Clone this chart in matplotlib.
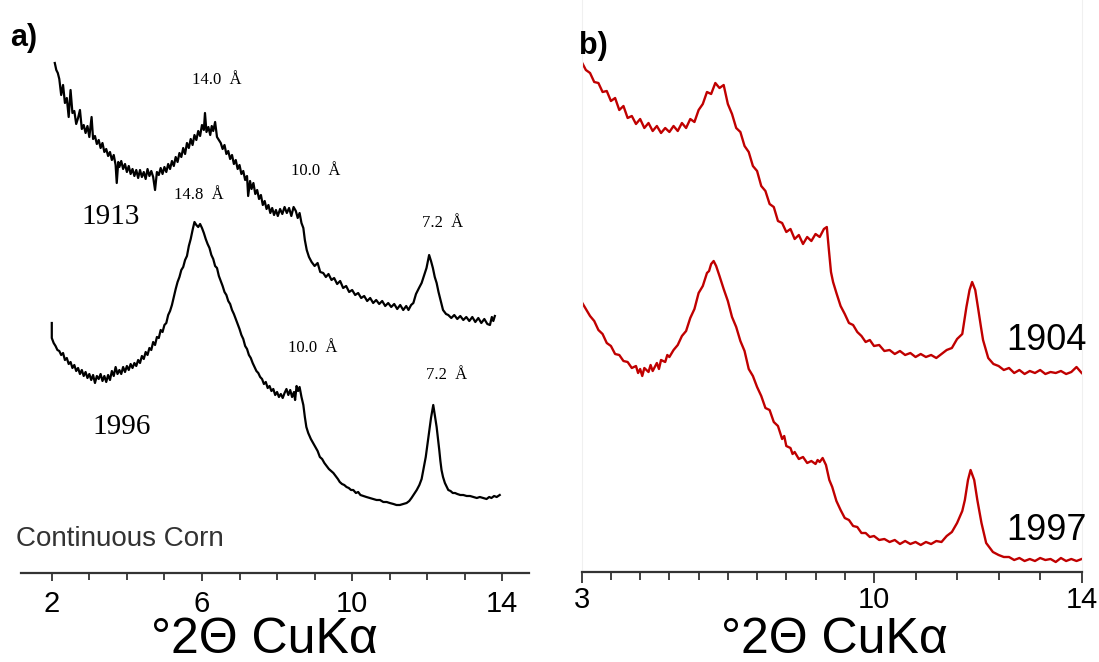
import numpy as np
import matplotlib
matplotlib.use('Agg')
import matplotlib.pyplot as plt

# a) scanned patterns: °2θ vs intensity (arbitrary units, read off the figure)
a1913_x = [2.08, 2.12, 2.16, 2.20, 2.25, 2.30, 2.35, 2.40, 2.45, 2.50, 2.55, 2.60, 2.65, 2.70, 2.75,
           2.80, 2.85, 2.90, 2.95, 3.00, 3.06, 3.10, 3.15, 3.20, 3.25, 3.30, 3.35, 3.40, 3.45, 3.50,
           3.55, 3.60, 3.65, 3.70, 3.73, 3.77, 3.80, 3.85, 3.90, 3.95, 4.00, 4.05, 4.10, 4.15, 4.20,
           4.25, 4.30, 4.35, 4.40, 4.45, 4.50, 4.55, 4.60, 4.65, 4.70, 4.75, 4.80, 4.85, 4.90, 4.95,
           5.00, 5.05, 5.10, 5.15, 5.20, 5.25, 5.30, 5.35, 5.40, 5.45, 5.50, 5.55, 5.60, 5.65, 5.70,
           5.75, 5.80, 5.85, 5.90, 5.95, 6.00, 6.05, 6.08, 6.12, 6.17, 6.22, 6.26, 6.30, 6.35, 6.40,
           6.45, 6.50, 6.55, 6.60, 6.65, 6.70, 6.75, 6.80, 6.85, 6.90, 6.95, 7.00, 7.05, 7.10, 7.15,
           7.20, 7.23, 7.28, 7.32, 7.37, 7.42, 7.47, 7.52, 7.57, 7.62, 7.67, 7.72, 7.77, 7.82, 7.87,
           7.92, 7.97, 8.02, 8.08, 8.14, 8.20, 8.26, 8.32, 8.38, 8.44, 8.50, 8.55, 8.60, 8.65, 8.70,
           8.74, 8.79, 8.85, 8.92, 9.00, 9.08, 9.15, 9.23, 9.30, 9.37, 9.45, 9.52, 9.60, 9.68, 9.76,
           9.84, 9.92, 10.00, 10.08, 10.16, 10.24, 10.32, 10.40, 10.48, 10.56, 10.64, 10.72, 10.80, 10.88, 10.96,
           11.04, 11.12, 11.20, 11.28, 11.36, 11.44, 11.50, 11.57, 11.63, 11.70, 11.78, 11.85, 11.92, 11.98, 12.05,
           12.10, 12.15, 12.20, 12.25, 12.30, 12.36, 12.42, 12.50, 12.56, 12.64, 12.72, 12.80, 12.88, 12.96, 13.04,
           13.12, 13.20, 13.28, 13.36, 13.44, 13.52, 13.60, 13.67, 13.72, 13.76, 13.80]
a1913_y = [510, 503, 500, 494, 478, 488, 470, 475, 456, 483, 460, 462, 449, 455, 463,
           444, 448, 440, 447, 436, 456, 434, 437, 429, 433, 425, 430, 421, 424, 417,
           421, 413, 418, 408, 390, 411, 406, 412, 404, 409, 401, 407, 399, 404, 397,
           403, 395, 403, 396, 401, 394, 404, 397, 402, 396, 383, 401, 398, 405, 399,
           406, 401, 409, 404, 412, 407, 416, 411, 420, 416, 425, 419, 430, 425, 434,
           428, 438, 433, 442, 437, 448, 443, 460, 441, 446, 438, 447, 442, 451, 436,
           433, 430, 424, 428, 419, 422, 414, 418, 409, 413, 404, 408, 399, 402, 393,
           397, 377, 392, 384, 390, 379, 383, 374, 378, 368, 372, 364, 368, 360, 365,
           358, 363, 357, 364, 359, 366, 360, 365, 357, 366, 362, 355, 360, 350, 345,
           333, 323, 316, 311, 307, 310, 301, 300, 296, 299, 293, 295, 289, 292, 285,
           287, 281, 283, 278, 280, 275, 277, 272, 275, 270, 273, 269, 272, 267, 270,
           266, 269, 264, 268, 263, 267, 263, 268, 270, 279, 285, 290, 298, 305, 318,
           312, 305, 296, 290, 281, 272, 263, 259, 258, 255, 258, 254, 257, 253, 256,
           252, 256, 251, 255, 250, 254, 249, 248, 256, 252, 257]

a1996_x = [2.00, 2.00, 2.05, 2.10, 2.15, 2.20, 2.25, 2.30, 2.35, 2.40, 2.45, 2.50, 2.55, 2.60, 2.65,
           2.70, 2.75, 2.80, 2.85, 2.90, 2.95, 3.00, 3.05, 3.10, 3.15, 3.20, 3.25, 3.30, 3.35, 3.40,
           3.45, 3.50, 3.55, 3.60, 3.65, 3.70, 3.75, 3.80, 3.85, 3.90, 3.95, 4.00, 4.05, 4.10, 4.15,
           4.20, 4.25, 4.30, 4.35, 4.40, 4.45, 4.50, 4.55, 4.60, 4.65, 4.70, 4.75, 4.80, 4.85, 4.90,
           4.95, 5.00, 5.05, 5.10, 5.15, 5.20, 5.25, 5.30, 5.35, 5.40, 5.45, 5.50, 5.55, 5.60, 5.65,
           5.70, 5.75, 5.80, 5.85, 5.90, 5.95, 6.00, 6.05, 6.10, 6.15, 6.20, 6.25, 6.30, 6.35, 6.40,
           6.45, 6.50, 6.55, 6.60, 6.65, 6.70, 6.75, 6.80, 6.85, 6.90, 6.95, 7.00, 7.05, 7.10, 7.15,
           7.20, 7.25, 7.30, 7.35, 7.40, 7.45, 7.50, 7.55, 7.60, 7.65, 7.70, 7.75, 7.80, 7.85, 7.90,
           7.95, 8.00, 8.05, 8.10, 8.15, 8.20, 8.25, 8.30, 8.35, 8.40, 8.45, 8.48, 8.52, 8.56, 8.60,
           8.65, 8.70, 8.74, 8.78, 8.83, 8.90, 8.96, 9.02, 9.08, 9.14, 9.20, 9.26, 9.32, 9.38, 9.44,
           9.50, 9.56, 9.62, 9.67, 9.73, 9.79, 9.85, 9.91, 9.97, 10.03, 10.10, 10.16, 10.22, 10.30, 10.38,
           10.47, 10.56, 10.65, 10.74, 10.83, 10.92, 11.00, 11.10, 11.18, 11.27, 11.36, 11.45, 11.52, 11.58, 11.65,
           11.72, 11.79, 11.85, 11.90, 11.96, 12.00, 12.05, 12.10, 12.16, 12.20, 12.25, 12.29, 12.32, 12.35, 12.38,
           12.42, 12.47, 12.52, 12.56, 12.62, 12.68, 12.74, 12.80, 12.88, 12.96, 13.05, 13.14, 13.23, 13.32, 13.40,
           13.49, 13.58, 13.65, 13.71, 13.78, 13.85, 13.93]
a1996_y = [250, 235, 230, 227, 223, 222, 218, 220, 213, 215, 209, 211, 205, 208, 202,
           205, 199, 203, 197, 201, 195, 199, 193, 198, 190, 197, 194, 199, 192, 197,
           191, 198, 193, 202, 197, 206, 199, 203, 199, 206, 201, 207, 203, 209, 205,
           210, 207, 213, 210, 217, 214, 221, 218, 225, 223, 231, 228, 236, 235, 243,
           241, 248, 250, 258, 262, 268, 276, 284, 291, 296, 303, 306, 313, 317, 327,
           334, 343, 351, 348, 346, 349, 345, 340, 334, 329, 325, 318, 314, 307, 305,
           297, 292, 287, 281, 278, 272, 269, 263, 259, 254, 249, 244, 238, 234, 227,
           224, 218, 215, 210, 206, 202, 200, 196, 194, 189, 191, 185, 187, 182, 184,
           178, 181, 176, 179, 175, 180, 184, 178, 183, 176, 181, 173, 187, 182, 186,
           176, 168, 156, 146, 140, 134, 130, 126, 122, 116, 114, 110, 107, 104, 102,
           100, 97, 94, 91, 89, 88, 86, 85, 83, 83, 80, 81, 78, 77, 76,
           75, 74, 73, 73, 71, 71, 70, 69, 68, 68, 69, 70, 72, 75, 79,
           83, 88, 94, 104, 116, 127, 140, 155, 168, 158, 146, 133, 123, 112, 103,
           96, 90, 86, 83, 82, 80, 80, 79, 78, 78, 77, 77, 76, 75, 76,
           75, 74, 76, 75, 77, 76, 78]

# b) diffractometer patterns
b1904_x = [3.0, 3.1, 3.2, 3.3, 3.4, 3.5, 3.6, 3.7, 3.8, 3.9, 4.0, 4.1, 4.2, 4.3, 4.4,
           4.5, 4.6, 4.7, 4.8, 4.9, 5.0, 5.1, 5.2, 5.3, 5.4, 5.5, 5.6, 5.7, 5.8, 5.9,
           6.0, 6.1, 6.2, 6.3, 6.4, 6.5, 6.6, 6.7, 6.8, 6.9, 7.0, 7.1, 7.2, 7.3, 7.4,
           7.5, 7.6, 7.7, 7.8, 7.9, 8.0, 8.1, 8.2, 8.3, 8.4, 8.5, 8.6, 8.7, 8.8, 8.87,
           8.92, 8.97, 9.02, 9.1, 9.2, 9.3, 9.4, 9.5, 9.6, 9.7, 9.8, 9.9, 10.0, 10.1, 10.2,
           10.3, 10.4, 10.5, 10.6, 10.7, 10.8, 10.9, 11.0, 11.1, 11.2, 11.3, 11.4, 11.5, 11.6, 11.7,
           11.78, 11.84, 11.89, 11.95, 12.01, 12.06, 12.1, 12.2, 12.3, 12.4, 12.5, 12.6, 12.7, 12.8, 12.9,
           13.0, 13.1, 13.2, 13.3, 13.4, 13.5, 13.6, 13.7, 13.8, 13.9, 14.0]
b1904_y = [510, 502, 499, 490, 489, 480, 481, 471, 474, 462, 466, 454, 456, 448, 453,
           444, 449, 441, 446, 439, 444, 440, 446, 441, 449, 444, 453, 450, 462, 468,
           480, 478, 489, 484, 487, 468, 458, 444, 440, 426, 420, 406, 401, 386, 381,
           368, 365, 351, 349, 340, 343, 333, 337, 328, 335, 331, 338, 335, 343, 345,
           322, 300, 290, 279, 266, 258, 249, 247, 240, 236, 230, 232, 226, 227, 221,
           222, 218, 221, 217, 219, 215, 218, 215, 217, 214, 218, 222, 224, 233, 238,
           265, 282, 290, 282, 262, 245, 232, 214, 208, 206, 202, 204, 199, 202, 198,
           201, 199, 202, 198, 200, 199, 201, 198, 200, 205, 199]

b1997_x = [3.0, 3.1, 3.2, 3.3, 3.4, 3.5, 3.6, 3.7, 3.8, 3.9, 4.0, 4.1, 4.2, 4.3, 4.35,
           4.4, 4.45, 4.5, 4.6, 4.65, 4.7, 4.8, 4.85, 4.9, 5.0, 5.05, 5.1, 5.2, 5.3, 5.4,
           5.5, 5.6, 5.7, 5.8, 5.9, 6.0, 6.05, 6.1, 6.16, 6.22, 6.3, 6.4, 6.5, 6.6, 6.7,
           6.8, 6.9, 7.0, 7.1, 7.2, 7.3, 7.4, 7.5, 7.6, 7.7, 7.8, 7.85, 7.9, 8.0, 8.05,
           8.1, 8.2, 8.3, 8.4, 8.5, 8.6, 8.65, 8.7, 8.77, 8.85, 8.93, 9.0, 9.1, 9.2, 9.3,
           9.4, 9.5, 9.6, 9.7, 9.8, 9.9, 10.0, 10.1, 10.2, 10.3, 10.4, 10.5, 10.6, 10.7, 10.8,
           10.9, 11.0, 11.1, 11.2, 11.3, 11.4, 11.5, 11.6, 11.7, 11.75, 11.81, 11.86, 11.93, 11.99, 12.07,
           12.16, 12.29, 12.4, 12.5, 12.6, 12.7, 12.8, 12.9, 13.0, 13.1, 13.2, 13.3, 13.4, 13.5, 13.6,
           13.7, 13.8, 13.9, 14.0]
b1997_y = [270, 263, 256, 251, 242, 238, 229, 226, 218, 217, 211, 210, 204, 206, 199,
           203, 196, 204, 200, 207, 201, 209, 203, 212, 210, 217, 215, 222, 227, 236,
           241, 254, 263, 279, 286, 299, 301, 308, 311, 306, 296, 283, 271, 255, 245,
           231, 221, 203, 196, 185, 176, 164, 162, 150, 146, 133, 136, 126, 124, 118,
           120, 113, 115, 109, 111, 108, 112, 110, 114, 107, 92, 85, 71, 62, 54,
           52, 46, 45, 39, 39, 35, 36, 32, 33, 30, 32, 28, 31, 28, 30,
           27, 30, 28, 31, 30, 36, 40, 49, 61, 72, 92, 102, 92, 72, 49,
           29, 20, 17, 15, 15, 12, 14, 11, 13, 11, 14, 12, 13, 10, 14,
           11, 13, 11, 13]

red = '#c00000'
axis_col = '#333333'
sans = ['Liberation Sans', 'DejaVu Sans']
serif = ['Liberation Serif', 'DejaVu Serif']


# panel b axis: 3-10 and 10-14 are drawn with different spacing
def fwd(x):
    x = np.asarray(x, dtype=float)
    return np.where(x <= 10, (x - 3) / 7 * 291.3, 291.3 + (x - 10) / 4 * 207)


def inv(u):
    u = np.asarray(u, dtype=float)
    return np.where(u <= 291.3, 3 + u / 291.3 * 7, 10 + (u - 291.3) / 207 * 4)


fig = plt.figure(figsize=(10.99, 6.62), dpi=100)
W, H = 1099, 662

# panel a
ax1 = fig.add_axes([21 / W, (H - 573) / H, 508 / W, 573 / H])
ax1.plot(a1913_x, a1913_y, color='black', lw=1.6)
ax1.plot(a1996_x, a1996_y, color='black', lw=1.6)
ax1.set_xlim(1.18, 14.71)
ax1.set_ylim(0, 573)
ax1.set_xticks([2, 6, 10, 14])
ax1.set_xticks(range(2, 15), minor=True)
ax1.set_yticks([])
for s in ['left', 'right', 'top']:
    ax1.spines[s].set_visible(False)
ax1.spines['bottom'].set_color(axis_col)
ax1.spines['bottom'].set_linewidth(1.6)
ax1.tick_params(axis='x', which='both', direction='out', color=axis_col, width=1.3,
                labelsize=21, pad=6)
ax1.tick_params(axis='x', which='major', length=6)
ax1.tick_params(axis='x', which='minor', length=5)
for lab in ax1.get_xticklabels():
    lab.set_family(sans)
ax1.set_xlabel('°2Θ CuKα', fontsize=36, family=sans, va='center')
ax1.xaxis.set_label_coords(0.48, -0.117)

ann = dict(fontsize=12, family=serif, ha='center', va='center')
ax1.text(6.40, 493, '14.0  Å', **ann)
ax1.text(5.92, 378, '14.8  Å', **ann)
ax1.text(9.03, 402, '10.0  Å', **ann)
ax1.text(12.40, 350, '7.2  Å', **ann)
ax1.text(8.96, 225, '10.0  Å', **ann)
ax1.text(12.51, 198, '7.2  Å', **ann)
ax1.text(3.58, 356, '1913', fontsize=21, family=serif, ha='center', va='center')
ax1.text(3.87, 146, '1996', fontsize=21, family=serif, ha='center', va='center')
ax1.text(1.04, 34, 'Continuous Corn', fontsize=20, family=sans, color='#333333',
         ha='left', va='center', clip_on=False)

# panel b
ax2 = fig.add_axes([581.7 / W, (H - 572) / H, 500 / W, 572 / H])
ax2.set_xscale('function', functions=(fwd, inv))
ax2.plot(b1904_x, b1904_y, color=red, lw=1.7)
ax2.plot(b1997_x, b1997_y, color=red, lw=1.7)
ax2.set_xlim(3, 14)
ax2.set_ylim(0, 572)
ax2.set_xticks([3, 10, 14])
ax2.set_xticks(list(np.arange(3, 10, 0.7)) + list(np.arange(10, 14.01, 0.8)), minor=True)
ax2.set_yticks([])
ax2.spines['top'].set_visible(False)
ax2.spines['left'].set_color('#f0f0f0')
ax2.spines['right'].set_color('#f0f0f0')
ax2.spines['bottom'].set_color(axis_col)
ax2.spines['bottom'].set_linewidth(1.6)
ax2.tick_params(axis='x', which='both', direction='out', color=axis_col, width=1.3,
                labelsize=21, pad=2)
ax2.tick_params(axis='x', which='major', length=8)
ax2.tick_params(axis='x', which='minor', length=6)
ax2.xaxis.set_minor_formatter(plt.NullFormatter())
ax2.xaxis.set_major_formatter(plt.FixedFormatter(['3', '10', '14']))
for lab in ax2.get_xticklabels():
    lab.set_family(sans)
ax2.set_xlabel('°2Θ CuKα', fontsize=36, family=sans, va='center')
ax2.xaxis.set_label_coords(0.505, -0.119)
ax2.text(12.55, 232, '1904', fontsize=26, family=sans, ha='left', va='center')
ax2.text(12.55, 42, '1997', fontsize=26, family=sans, ha='left', va='center')

fig.text(10.6 / W, 1 - 38 / H, 'a)', fontsize=22, fontweight='bold', family=sans,
         ha='left', va='center')
fig.text(579 / W, 1 - 46 / H, 'b)', fontsize=22, fontweight='bold', family=sans,
         ha='left', va='center')

fig.savefig('out.png', dpi=100)
